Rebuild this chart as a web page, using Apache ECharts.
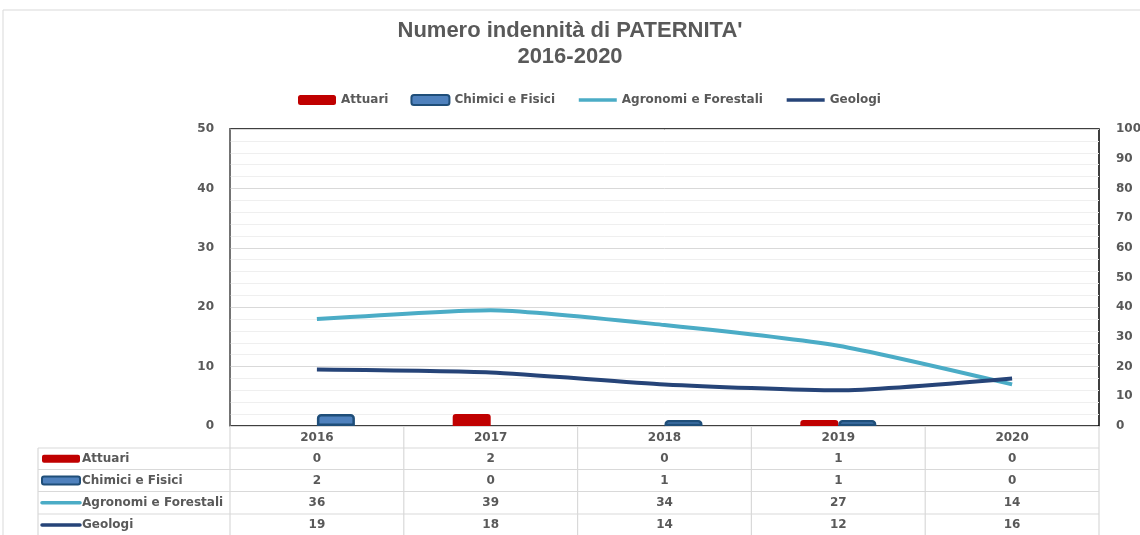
<!DOCTYPE html>
<html>
<head>
<meta charset="UTF-8">
<title>Numero indennità di PATERNITA'</title>
<style>
    body{ margin:0; background:#ffffff; }
    #main{ width:1140px; height:535px; }
</style>
<script src="https://cdn.jsdelivr.net/npm/echarts@6/dist/echarts.min.js"></script>
</head>
<body>
<div id="main"></div>
<script type="text/javascript">
    // dati
    var anni = ['2016', '2017', '2018', '2019', '2020'];
    var attuari = [0, 2, 0, 1, 0];
    var chimici = [2, 0, 1, 1, 0];
    var agronomi = [36, 39, 34, 27, 14];
    var geologi = [19, 18, 14, 12, 16];
    var nomi = ['Attuari', 'Chimici e Fisici', 'Agronomi e Forestali', 'Geologi'];
    var tickSx = [0, 10, 20, 30, 40, 50];
    var tickDx = [0, 10, 20, 30, 40, 50, 60, 70, 80, 90, 100];

    var righe = [attuari, chimici, agronomi, geologi];
    var grigio = '#595959';
    var font = 'DejaVu Sans';

    var myChart = echarts.init(document.getElementById('main'));

    // le barre a zero non devono mostrare il bordo
    function barre(arr) {
        return arr.map(function (v) {
            return v === 0 ? { value: v, itemStyle: { borderWidth: 0 } } : v;
        });
    }

    // assi extra per le righe della tabella dati
    var assiX = [{
        type: 'category',
        data: anni,
        position: 'bottom',
        axisLine: { show: true, lineStyle: { color: '#d9d9d9', width: 1 } },
        axisTick: { show: false },
        axisLabel: { interval: 0, margin: 6, color: grigio, fontFamily: font, fontWeight: 'bold', fontSize: 12 }
    }];
    righe.forEach(function (r, i) {
        assiX.push({
            type: 'category',
            data: anni,
            position: 'bottom',
            offset: 21 + i * 22,
            axisLine: { show: false },
            axisTick: { show: false },
            axisLabel: {
                interval: 0, margin: 6, color: grigio, fontFamily: font, fontWeight: 'bold', fontSize: 12,
                formatter: function (v, idx) { return String(r[idx]); }
            }
        });
    });

    var option = {
        backgroundColor: '#ffffff',
        animation: false,
        title: {
            text: "Numero indennità di PATERNITA'\n2016-2020",
            left: 'center',
            top: 13,
            textStyle: { fontFamily: 'Liberation Sans', fontWeight: 'bold', fontSize: 22, lineHeight: 26, color: grigio }
        },
        legend: {
            left: 293,
            top: 89,
            itemWidth: 38,
            itemHeight: 10,
            itemGap: 22,
            textStyle: { fontFamily: font, fontWeight: 'bold', fontSize: 12, color: grigio },
            data: [
                { name: nomi[0] },
                { name: nomi[1] },
                { name: nomi[2], itemStyle: { opacity: 0 }, lineStyle: { width: 3.5 } },
                { name: nomi[3], itemStyle: { opacity: 0 }, lineStyle: { width: 3.5 } }
            ]
        },
        grid: {
            left: 230, right: 41, top: 129, bottom: 109,
            outerBoundsMode: 'none',
            show: true, borderColor: '#000000', borderWidth: 1.5
        },
        xAxis: assiX,
        yAxis: [{
            type: 'value',
            min: 0, max: 50, interval: 10,
            axisLine: { show: true, lineStyle: { color: '#868686', width: 1.5 } },
            axisTick: { show: false },
            axisLabel: {
                margin: 16, color: grigio, fontFamily: font, fontWeight: 'bold', fontSize: 12,
                formatter: function (v) { return tickSx.indexOf(v) >= 0 ? String(v) : ''; }
            },
            splitLine: { lineStyle: { color: '#d9d9d9' } },
            minorTick: { show: false, splitNumber: 5 },
            minorSplitLine: { show: true, lineStyle: { color: '#efefef' } }
        }, {
            type: 'value',
            min: 0, max: 100, interval: 10,
            position: 'right',
            axisLine: { show: false },
            axisTick: { show: false },
            axisLabel: {
                margin: 17, color: grigio, fontFamily: font, fontWeight: 'bold', fontSize: 12,
                formatter: function (v) { return tickDx.indexOf(v) >= 0 ? String(v) : ''; }
            },
            splitLine: { show: false }
        }],
        series: [{
            name: nomi[0],
            type: 'bar',
            barWidth: 38,
            barGap: '0%',
            itemStyle: { color: '#c00000', borderRadius: [3, 3, 0, 0] },
            data: barre(attuari)
        }, {
            name: nomi[1],
            type: 'bar',
            barWidth: 38,
            barGap: '0%',
            itemStyle: { color: '#4f81bd', borderColor: '#1f4e79', borderWidth: 2.5, borderRadius: [3, 3, 0, 0] },
            data: barre(chimici)
        }, {
            name: nomi[2],
            type: 'line',
            yAxisIndex: 1,
            symbol: 'none',
            smooth: 0.2,
            lineStyle: { color: '#4bacc6', width: 4 },
            itemStyle: { color: '#4bacc6' },
            data: agronomi
        }, {
            name: nomi[3],
            type: 'line',
            yAxisIndex: 1,
            symbol: 'none',
            smooth: 0.2,
            lineStyle: { color: '#264478', width: 4 },
            itemStyle: { color: '#264478' },
            data: geologi
        }]
    };
    myChart.setOption(option);

    // griglia della tabella dati e chiavi di legenda
    var x0 = myChart.convertToPixel({ xAxisIndex: 0 }, 0);
    var x1 = myChart.convertToPixel({ xAxisIndex: 0 }, 1);
    var passo = x1 - x0;
    var gl = x0 - passo / 2;
    var gr = gl + passo * anni.length;
    var yAsse = myChart.convertToPixel({ yAxisIndex: 0 }, 0);
    var tabSx = 38;
    var righeY = [yAsse + 22, yAsse + 43.5, yAsse + 65.5, yAsse + 88, yAsse + 110];
    var linea = { stroke: '#d9d9d9', lineWidth: 1.2 };
    var gr_el = [];

    gr_el.push({ type: 'rect', shape: { x: 3, y: 10, width: 1160, height: 560 }, style: { fill: 'none', stroke: '#d9d9d9', lineWidth: 1 }, silent: true });
    righeY.forEach(function (y) {
        gr_el.push({ type: 'line', shape: { x1: tabSx, y1: y, x2: gr, y2: y }, style: linea, silent: true });
    });
    gr_el.push({ type: 'line', shape: { x1: tabSx, y1: righeY[0], x2: tabSx, y2: 540 }, style: linea, silent: true });
    for (var k = 0; k <= anni.length; k++) {
        var xx = gl + passo * k;
        gr_el.push({ type: 'line', shape: { x1: xx, y1: yAsse, x2: xx, y2: 540 }, style: linea, silent: true });
    }

    var colori = ['#c00000', '#4f81bd', '#4bacc6', '#264478'];
    nomi.forEach(function (n, i) {
        var yc = (righeY[i] + righeY[i + 1]) / 2;
        if (i === 0) {
            gr_el.push({ type: 'rect', shape: { x: 42, y: yc - 4, width: 38, height: 8, r: 2 }, style: { fill: colori[0] }, silent: true });
        } else if (i === 1) {
            gr_el.push({ type: 'rect', shape: { x: 42, y: yc - 4, width: 38, height: 8, r: 2 }, style: { fill: colori[1], stroke: '#1f4e79', lineWidth: 2 }, silent: true });
        } else {
            gr_el.push({ type: 'line', shape: { x1: 42, y1: yc, x2: 80, y2: yc }, style: { stroke: colori[i], lineWidth: 3.5, lineCap: 'round' }, silent: true });
        }
        gr_el.push({
            type: 'text', x: 82, y: yc, silent: true,
            style: { text: n, fill: grigio, font: 'bold 12px "DejaVu Sans"', verticalAlign: 'middle' }
        });
    });

    myChart.setOption({ graphic: gr_el });
</script>
</body>
</html>
